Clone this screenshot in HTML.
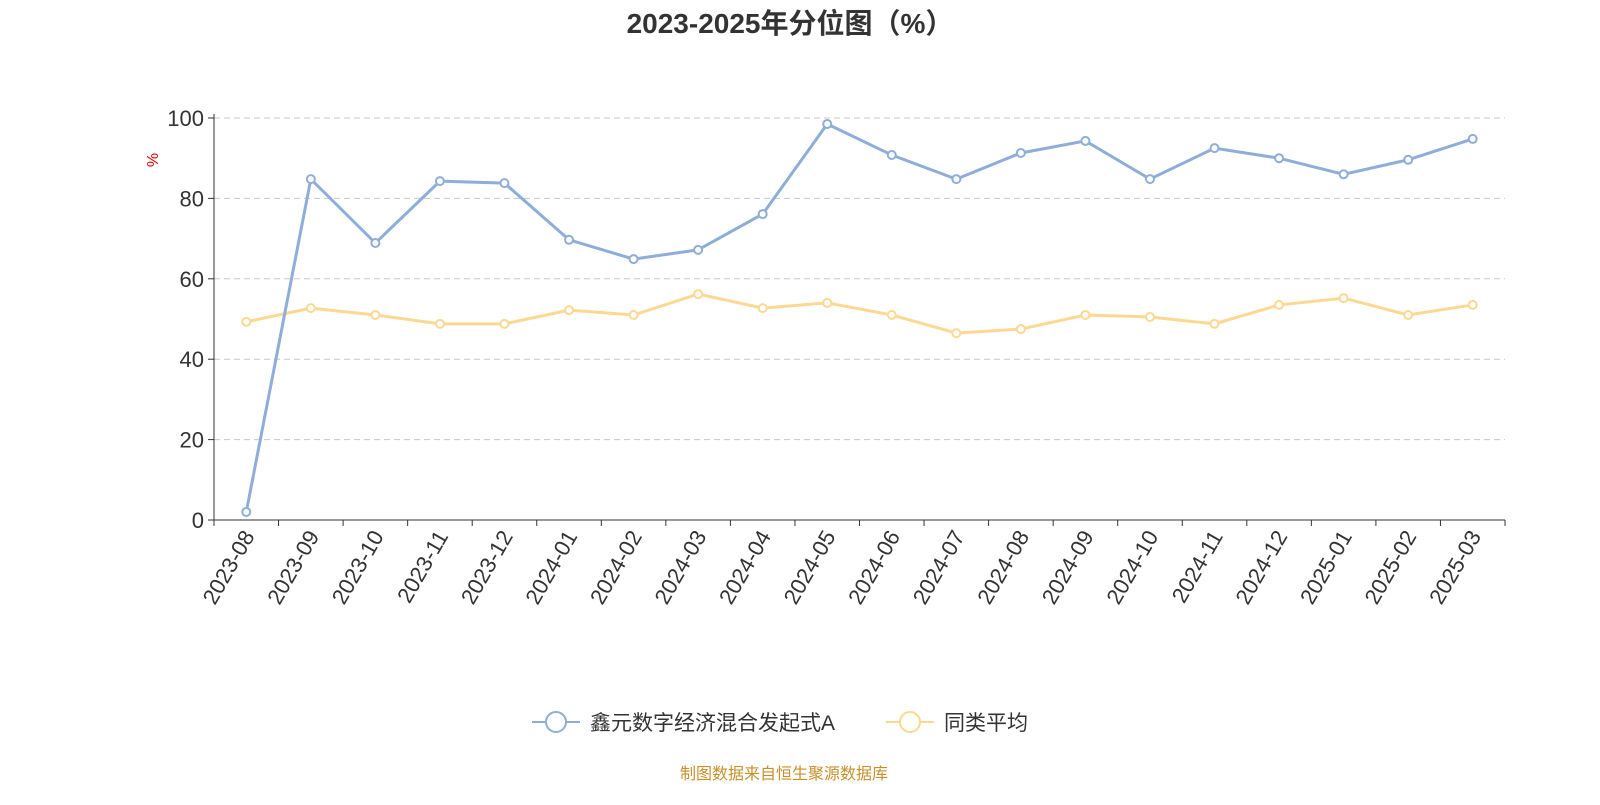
<!DOCTYPE html>
<html><head><meta charset="utf-8"><style>
body{margin:0;background:#fff;width:1600px;height:800px;overflow:hidden;font-family:"Liberation Sans","Noto Sans CJK SC",sans-serif}
</style></head><body>
<svg id="chart" width="1600" height="800" xmlns="http://www.w3.org/2000/svg" font-family="Liberation Sans, Noto Sans CJK SC, sans-serif">
<text x="790" y="33" text-anchor="middle" font-size="28" font-weight="bold" fill="#333">2023-2025年分位图（%）</text>
<text x="158" y="160" font-size="16" fill="#e00" text-anchor="middle" transform="rotate(-90 158 160)">%</text>
<g id="grid"></g><g id="axes"></g><g id="series"></g>
<g>
<g><line x1="532" y1="722" x2="580" y2="722" stroke="#8eadd9" stroke-width="2"/><circle cx="556" cy="722" r="10" fill="#fff" stroke="#8eadd9" stroke-width="2"/><text x="590" y="730" font-size="21" fill="#333">鑫元数字经济混合发起式A</text></g>
<g><line x1="886" y1="722" x2="934" y2="722" stroke="#fdd893" stroke-width="2"/><circle cx="910" cy="722" r="10" fill="#fff" stroke="#fdd893" stroke-width="2"/><text x="944" y="730" font-size="21" fill="#333">同类平均</text></g>
</g>
<text x="784" y="779" text-anchor="middle" font-size="16" fill="#c8902a">制图数据来自恒生聚源数据库</text>
</svg>
<script>
const categories=["2023-08","2023-09","2023-10","2023-11","2023-12","2024-01","2024-02","2024-03","2024-04","2024-05","2024-06","2024-07","2024-08","2024-09","2024-10","2024-11","2024-12","2025-01","2025-02","2025-03"];
const fundValues=[2,84.8,68.9,84.3,83.8,69.7,64.9,67.2,76.1,98.5,90.8,84.8,91.3,94.3,84.8,92.5,90,86,89.6,94.8];
const avgValues=[49.3,52.7,51,48.8,48.8,52.2,51,56.2,52.7,54,51,46.5,47.5,51,50.5,48.8,53.5,55.2,51,53.5];
const yTicks=[0,20,40,60,80,100];
const NS="http://www.w3.org/2000/svg";
const x0=214,x1=1505,y0=520,y1=118;
const bw=(x1-x0)/categories.length;
const xs=i=>x0+bw*(i+0.5);
const ys=v=>y0-(v/100)*(y0-y1);
function mk(t,a,p){const e=document.createElementNS(NS,t);for(const k in a)e.setAttribute(k,a[k]);p.appendChild(e);return e;}
const grid=document.getElementById('grid'),axes=document.getElementById('axes'),ser=document.getElementById('series');
yTicks.forEach(v=>{
 if(v>0){const g=mk('line',{x1:x0,x2:x1,y1:ys(v),y2:ys(v),stroke:'#c8c8c8','stroke-dasharray':'6,4'},grid);
 
 }
 mk('line',{x1:x0-6,x2:x0,y1:ys(v),y2:ys(v),stroke:'#333'},axes);
 const t=mk('text',{x:x0-10,y:ys(v)+8,'text-anchor':'end','font-size':22,fill:'#333'},axes);t.textContent=v;
 
 
});
let a=mk('line',{x1:x0,x2:x0,y1:y1-4,y2:y0,stroke:'#333'},axes);


a=mk('line',{x1:x0,x2:x1,y1:y0,y2:y0,stroke:'#333'},axes);


for(let i=0;i<=categories.length;i++)mk('line',{x1:x0+bw*i,x2:x0+bw*i,y1:y0,y2:y0+6,stroke:'#333'},axes);
categories.forEach((c,i)=>{
 const x=xs(i)+9,y=y0+16;
 const t=mk('text',{x:x,y:y,'text-anchor':'end','font-size':22,fill:'#333',transform:`rotate(-60 ${x} ${y})`},axes);t.textContent=c;
 
 
});
function draw(vals,color,name){
 const p=mk('polyline',{points:vals.map((v,i)=>xs(i)+','+ys(v)).join(' '),fill:'none',stroke:color,'stroke-width':3},ser);
 
 
 vals.forEach((v,i)=>{const c=mk('circle',{cx:xs(i),cy:ys(v),r:4,fill:'#fff',stroke:color,'stroke-width':2},ser);
 
 });
}
draw(avgValues,'#fdd893','average');
draw(fundValues,'#8eadd9','fund');
</script>
</body></html>
